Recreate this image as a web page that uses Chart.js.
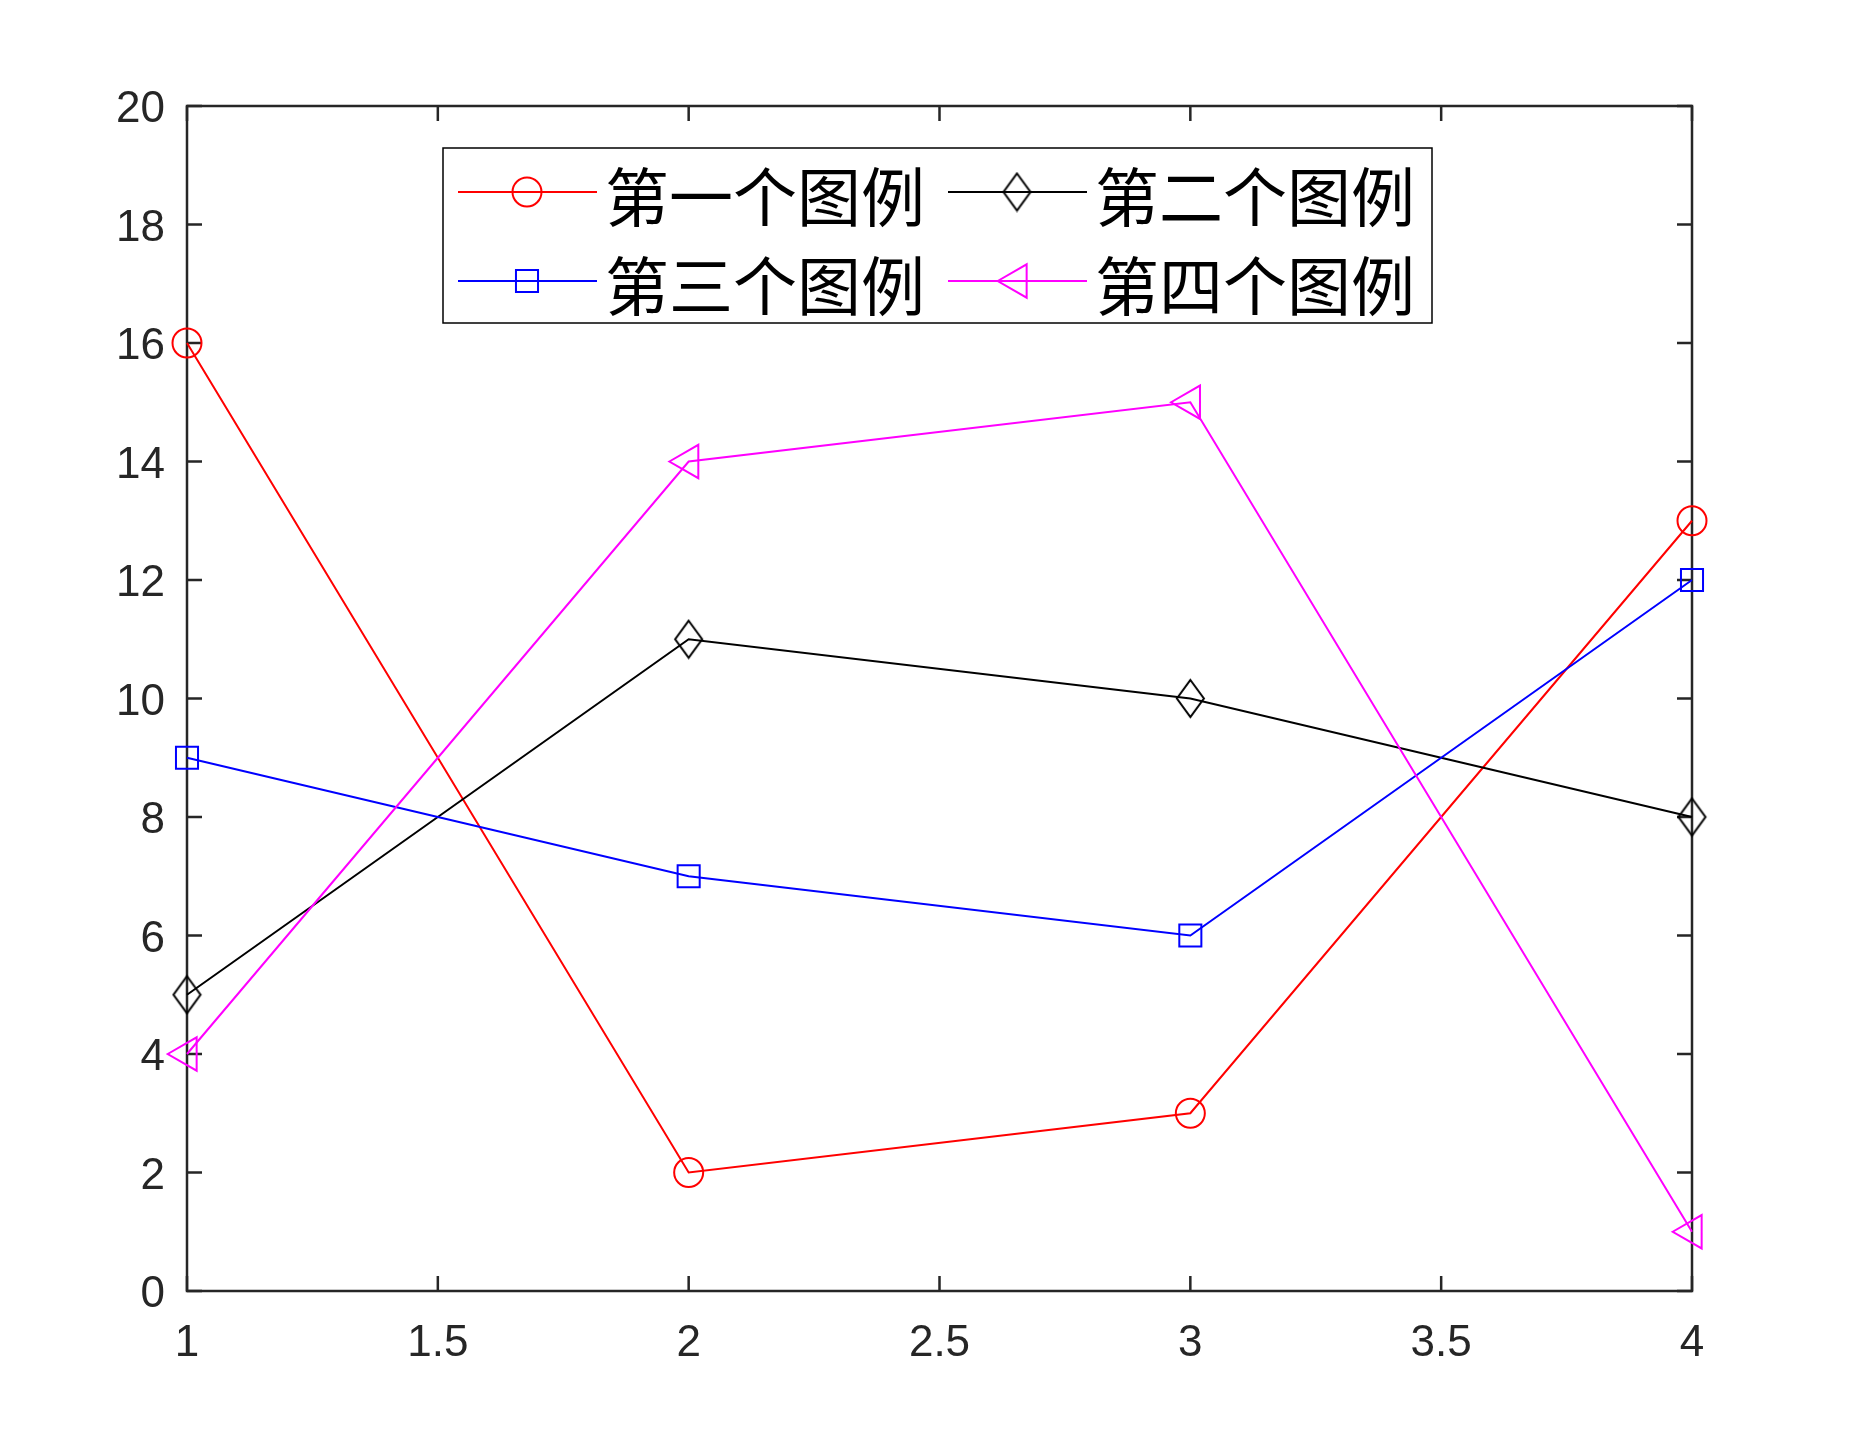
<!DOCTYPE html>
<html>
<head>
<meta charset="utf-8">
<script src="https://cdn.jsdelivr.net/npm/chart.js@4/dist/chart.umd.min.js"></script>
<style>
  html, body { margin: 0; padding: 0; background: #ffffff; }
  #c { display: block; }
</style>
</head>
<body>
<canvas id="c" width="1849" height="1453"></canvas>
<script>
// ---- data ----
const xValues = [1, 2, 3, 4];
const series1 = [16, 2, 3, 13];
const series2 = [5, 11, 10, 8];
const series3 = [9, 7, 6, 12];
const series4 = [4, 14, 15, 1];
const seriesLabels = ['第一个图例', '第二个图例', '第三个图例', '第四个图例'];
const xTicks = [1, 1.5, 2, 2.5, 3, 3.5, 4];
const xTickLabels = ['1', '1.5', '2', '2.5', '3', '3.5', '4'];
const yTicks = [0, 2, 4, 6, 8, 10, 12, 14, 16, 18, 20];
const yTickLabels = ['0', '2', '4', '6', '8', '10', '12', '14', '16', '18', '20'];

// ---- styles ----
const AXIS_COLOR = '#262626';
const TICK_FONT = { family: '"Liberation Sans", Arial, Helvetica, sans-serif', size: 44 };

// elongated diamond marker (MATLAB style)
function makeDiamond(color, w, h, lw) {
  const c = document.createElement('canvas');
  c.width = Math.ceil(w + lw * 2);
  c.height = Math.ceil(h + lw * 2);
  const g = c.getContext('2d');
  const cx = c.width / 2, cy = c.height / 2;
  g.strokeStyle = color;
  g.lineWidth = lw;
  g.lineJoin = 'miter';
  g.beginPath();
  g.moveTo(cx, cy - h / 2);
  g.lineTo(cx + w / 2, cy);
  g.lineTo(cx, cy + h / 2);
  g.lineTo(cx - w / 2, cy);
  g.closePath();
  g.stroke();
  return c;
}
const diamondImg = makeDiamond('#000000', 27, 37, 2);

function toXY(ys) { return ys.map((y, i) => ({ x: xValues[i], y: y })); }

const datasets = [
  { label: seriesLabels[0], data: toXY(series1), borderColor: '#FF0000', pointStyle: 'circle', pointRadius: 14.5, pointRotation: 0, order: 4 },
  { label: seriesLabels[1], data: toXY(series2), borderColor: '#000000', pointStyle: diamondImg, pointRadius: 18, pointRotation: 0, order: 3 },
  { label: seriesLabels[2], data: toXY(series3), borderColor: '#0000FF', pointStyle: 'rect', pointRadius: 15.6, pointRotation: 0, order: 2 },
  { label: seriesLabels[3], data: toXY(series4), borderColor: '#FF00FF', pointStyle: 'triangle', pointRadius: 19.3, pointRotation: -90, order: 1 }
].map(d => Object.assign(d, {
  backgroundColor: 'rgba(0,0,0,0)',
  pointBackgroundColor: 'rgba(0,0,0,0)',
  pointBorderColor: d.borderColor,
  pointBorderWidth: 2,
  pointHoverRadius: d.pointRadius,
  borderWidth: 2,
  tension: 0,
  fill: false,
  clip: false,
  showLine: true
}));

// axes box with inward ticks on all sides (MATLAB-like)
const boxPlugin = {
  id: 'matlabBox',
  beforeDatasetsDraw(chart) {
    const { ctx, chartArea: a, scales } = chart;
    const TL = 15;
    ctx.save();
    ctx.strokeStyle = AXIS_COLOR;
    ctx.lineWidth = 2.5;
    ctx.lineCap = 'butt';
    ctx.beginPath();
    scales.x.ticks.forEach(t => {
      const px = scales.x.getPixelForValue(t.value);
      ctx.moveTo(px, a.bottom); ctx.lineTo(px, a.bottom - TL);
      ctx.moveTo(px, a.top); ctx.lineTo(px, a.top + TL);
    });
    scales.y.ticks.forEach(t => {
      const py = scales.y.getPixelForValue(t.value);
      ctx.moveTo(a.left, py); ctx.lineTo(a.left + TL, py);
      ctx.moveTo(a.right, py); ctx.lineTo(a.right - TL, py);
    });
    ctx.stroke();
    ctx.strokeRect(a.left, a.top, a.right - a.left, a.bottom - a.top);
    ctx.restore();
  }
};

// MATLAB-style legend inside the axes, 2 columns
const legendPlugin = {
  id: 'matlabLegend',
  afterDatasetsDraw(chart) {
    const { ctx } = chart;
    const box = { x: 443, y: 148, w: 989, h: 175 };
    const rows = [192, 281];
    const cols = [
      { lineStart: 458, lineEnd: 597, marker: 527, text: 605 },
      { lineStart: 948, lineEnd: 1087, marker: 1017, text: 1095 }
    ];
    ctx.save();
    ctx.fillStyle = '#ffffff';
    ctx.fillRect(box.x, box.y, box.w, box.h);
    ctx.strokeStyle = '#000000';
    ctx.lineWidth = 1.5;
    ctx.strokeRect(box.x, box.y, box.w, box.h);
    chart.data.datasets.forEach((ds, i) => {
      const r = rows[Math.floor(i / 2)];
      const c = cols[i % 2];
      ctx.strokeStyle = ds.borderColor;
      ctx.lineWidth = 2;
      ctx.beginPath();
      ctx.moveTo(c.lineStart, r);
      ctx.lineTo(c.lineEnd, r);
      ctx.stroke();
      ctx.fillStyle = 'rgba(0,0,0,0)';
      ctx.strokeStyle = ds.borderColor;
      ctx.lineWidth = 2;
      Chart.helpers.drawPoint(ctx, {
        pointStyle: ds.pointStyle,
        rotation: ds.pointRotation,
        radius: ds.pointRadius,
        borderWidth: 2
      }, c.marker, r);
      ctx.fillStyle = '#000000';
      ctx.font = '64px "Noto Sans CJK SC", "Noto Sans CJK JP", sans-serif';
      ctx.textAlign = 'left';
      ctx.textBaseline = 'middle';
      ctx.fillText(ds.label, c.text, r + 5);
    });
    ctx.restore();
  }
};

new Chart(document.getElementById('c'), {
  type: 'line',
  data: { datasets: datasets },
  options: {
    responsive: false,
    devicePixelRatio: 1,
    animation: false,
    events: [],
    layout: { padding: { left: 107, top: 106, right: 157, bottom: 62 } },
    plugins: { legend: { display: false }, tooltip: { enabled: false }, title: { display: false } },
    scales: {
      x: {
        type: 'linear',
        min: 1, max: 4,
        afterBuildTicks: (s) => { s.ticks = xTicks.map(v => ({ value: v })); },
        afterFit: (s) => { s.height = 100; },
        grid: { display: false, drawTicks: false },
        border: { display: false },
        ticks: {
          color: AXIS_COLOR, font: TICK_FONT, padding: 26, maxRotation: 0, autoSkip: false,
          callback: (v) => { const i = xTicks.indexOf(v); return i >= 0 ? xTickLabels[i] : ''; }
        }
      },
      y: {
        type: 'linear',
        min: 0, max: 20,
        afterBuildTicks: (s) => { s.ticks = yTicks.map(v => ({ value: v })); },
        afterFit: (s) => { s.width = 80; },
        grid: { display: false, drawTicks: false },
        border: { display: false },
        ticks: {
          color: AXIS_COLOR, font: TICK_FONT, padding: 22, labelOffset: 4, autoSkip: false,
          callback: (v) => { const i = yTicks.indexOf(v); return i >= 0 ? yTickLabels[i] : ''; }
        }
      }
    }
  },
  plugins: [boxPlugin, legendPlugin]
});
</script>
</body>
</html>
